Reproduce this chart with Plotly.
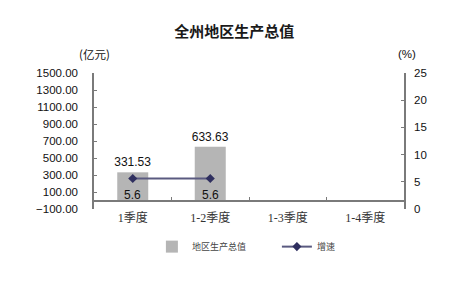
import plotly.graph_objects as go

categories = ["1季度", "1-2季度", "1-3季度", "1-4季度"]
gdp_values = [331.53, 633.63, None, None]
growth_values = [5.6, 5.6, None, None]
left_ticks = [-100, 100, 300, 500, 700, 900, 1100, 1300, 1500]
right_ticks = [0, 5, 10, 15, 20, 25]

num_font = "Liberation Sans, Arial, sans-serif"
cjk_font = "Noto Sans CJK SC, sans-serif"
serif_font = "Liberation Serif, Noto Sans CJK SC, serif"

fig = go.Figure()
fig.add_trace(go.Bar(
    x=categories, y=gdp_values, name="地区生产总值",
    marker=dict(color="#b5b5b5", line=dict(width=0)),
    width=0.4,
    text=[f"{v:.2f}" if v is not None else "" for v in gdp_values],
    textposition="outside", cliponaxis=False, constraintext="none",
    textfont=dict(family=num_font, size=12, color="#111"),
))
fig.add_trace(go.Scatter(
    x=categories, y=growth_values, name="增速", yaxis="y2",
    mode="lines+markers",
    line=dict(color="#5a5a80", width=2),
    marker=dict(symbol="diamond", size=7, color="#2f2f5f"),
    cliponaxis=False,
))
for c, v in zip(categories, growth_values):
    if v is not None:
        fig.add_annotation(x=c, y=v, yref="y2", text=f"{v}", showarrow=False,
                           yshift=-16, font=dict(family=num_font, size=12, color="#111"))

fig.update_layout(
    width=475, height=282,
    margin=dict(l=94, r=71, t=73, b=73),
    paper_bgcolor="white", plot_bgcolor="white",
    showlegend=True,
    bargap=0.6,
    title=dict(text="<b>全州地区生产总值</b>", x=0.493, xref="container", y=1 - 32 / 282,
               yref="container", xanchor="center", yanchor="middle",
               font=dict(family=cjk_font, size=15, color="#1a1a1a")),
    legend=dict(orientation="h", x=0.59, xanchor="center", y=-0.17, yanchor="top",
                font=dict(family=cjk_font, size=9, color="#444"),
                itemwidth=30, entrywidth=80),
    xaxis=dict(
        type="category", range=[-0.5, 3.5],
        anchor="free", position=100 / 1600,
        showline=True, linecolor="#7a7a7a", linewidth=2,
        ticks="inside", ticklen=3, tickcolor="#7a7a7a", tickson="boundaries",
        showgrid=False, ticklabelstandoff=6,
        tickfont=dict(family=serif_font, size=12, color="#333"),
    ),
    yaxis=dict(
        range=[-100, 1500], tickvals=left_ticks, tickformat=".2f",
        showline=True, linecolor="#7a7a7a", linewidth=1.5,
        ticks="inside", ticklen=3, tickcolor="#7a7a7a",
        showgrid=False, zeroline=False, ticklabelstandoff=12,
        tickfont=dict(family=num_font, size=11.5, color="#111"),
    ),
    yaxis2=dict(
        range=[0, 25], tickvals=right_ticks, overlaying="y", side="right",
        showline=True, linecolor="#7a7a7a", linewidth=1.5,
        ticks="inside", ticklen=3, tickcolor="#7a7a7a",
        showgrid=False, zeroline=False, ticklabelstandoff=6,
        tickfont=dict(family=num_font, size=11.5, color="#111"),
    ),
)
fig.add_annotation(text="(亿元)", x=0, y=1 + 19 / 136, xref="paper", yref="paper",
                   showarrow=False, xanchor="center", yanchor="middle",
                   font=dict(family=cjk_font, size=11.5, color="#111"))
fig.add_annotation(text="(%)", x=1.01, y=1 + 19 / 136, xref="paper", yref="paper",
                   showarrow=False, xanchor="center", yanchor="middle",
                   font=dict(family=num_font, size=11.5, color="#111"))

fig.write_html("out.html")
